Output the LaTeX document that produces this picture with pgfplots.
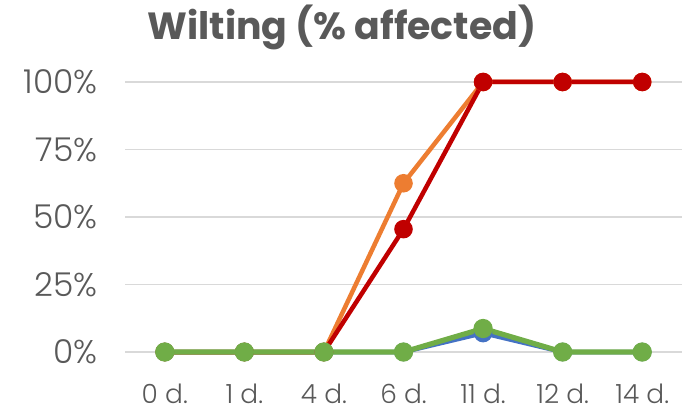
\documentclass[border=0pt]{standalone}
\usepackage{fontspec}
\setmainfont{Poppins}
\newfontfamily\lightfont{Poppins Light}
\usepackage{pgfplots}
\pgfplotsset{compat=1.18}
\definecolor{cblue}{HTML}{4472C4}
\definecolor{corange}{HTML}{ED7D31}
\definecolor{cred}{HTML}{C00000}
\definecolor{cgreen}{HTML}{70AD47}
\definecolor{gridc}{HTML}{D9D9D9}
\definecolor{txt}{HTML}{595959}
\begin{document}
\begin{tikzpicture}[x=1bp,y=1bp]
\path[use as bounding box] (0,0) rectangle (686,412);
\begin{axis}[
  at={(125bp,60bp)}, anchor=south west,
  scale only axis, width=557bp, height=270bp,
  xmin=-0.5, xmax=6.5, ymin=0, ymax=100,
  axis line style={draw=none},
  xtick={0,...,6},
  xticklabels={0 d.,1 d.,4 d.,6 d.,11 d.,12 d.,14 d.},
  ytick={0,25,50,75,100},
  yticklabels={0\%,25\%,50\%,75\%,100\%},
  major tick length=0pt,
  xmajorgrids=false, ymajorgrids=true,
  grid style={draw=gridc, line width=1.3bp},
  tick label style={text=txt},
  xticklabel style={font=\lightfont\fontsize{26.5}{30}\selectfont, anchor=base, yshift=-51bp},
  yticklabel style={font=\lightfont\fontsize{33}{36}\selectfont, xshift=-24bp},
  clip=false,
  every axis plot/.append style={line width=4.5bp, mark=*, mark size=7bp},
]
\addplot[cblue, mark options={fill=cblue, draw=cblue}] coordinates {(0,0) (1,0) (2,0) (3,0) (4,7) (5,0) (6,0)};
\addplot[corange, mark options={fill=corange, draw=corange}] coordinates {(0,0) (1,0) (2,0) (3,62.5) (4,100) (5,100) (6,100)};
\addplot[cred, mark options={fill=cred, draw=cred}] coordinates {(0,0) (1,0) (2,0) (3,45.5) (4,100) (5,100) (6,100)};
\addplot[cgreen, line width=5.2bp, mark options={fill=cgreen, draw=cgreen}] coordinates {(0,0) (1,0) (2,0) (3,0) (4,8.7) (5,0) (6,0)};
\end{axis}
\node[text=txt, font=\bfseries\fontsize{38}{42}\selectfont, anchor=base] at (342,373) {Wilting (\% affected)};
\end{tikzpicture}
\end{document}
